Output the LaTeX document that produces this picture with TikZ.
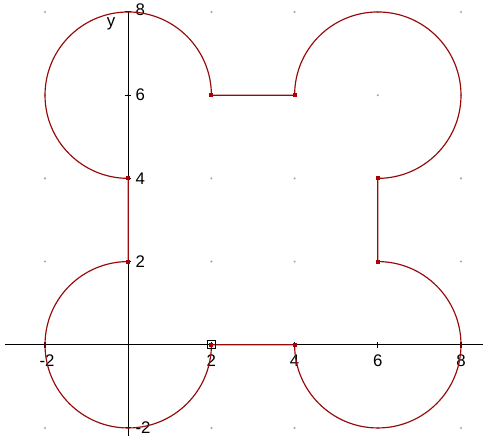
\documentclass[tikz,border=0pt]{standalone}
\usepackage{fontspec}
\setmainfont{Liberation Sans}
\begin{document}
\begin{tikzpicture}[x=1cm,y=1cm,
  axis/.style={black,line width=0.7pt},
  curve/.style={draw={rgb,255:red,150;green,10;blue,10},line width=0.8pt},
  pt/.style={fill={rgb,255:red,170;green,0;blue,0},inner sep=0pt,minimum size=2.8pt,rectangle},
  griddot/.style={fill=gray!70,inner sep=0pt,minimum size=1.6pt,circle},
  lbl/.style={font=\fontsize{11.5}{13}\selectfont,inner sep=0pt}]
\useasboundingbox (-3.082,-2.192) rectangle (8.529,8.288);
% grid dots
\foreach \gx in {-2,0,...,8}{\foreach \gy in {-2,0,...,8}{\node[griddot] at (\gx,\gy) {};}}
% axes
\coordinate (xl) at (-2.96,0); \coordinate (xr) at (8.529,0);
\coordinate (yb) at (0,-2.192); \coordinate (yt) at (0,8.02);
\draw[axis] (xl) -- (xr);
\draw[axis] (yb) -- (yt);
\foreach \t in {-2,2,4,6,8}{\draw[axis] (\t,-0.07) -- (\t,0.07); \draw[axis] (-0.07,\t) -- (0.07,\t);}
% labels
\node[lbl,anchor=north] at (-1.95,-0.24) {-2};
\foreach \t in {2,4,6,8}{\node[lbl,anchor=north] at (\t,-0.24) {\t};}
\foreach \t in {2,4,6}{\node[lbl,anchor=west] at (0.17,\t) {\t};}
\node[lbl,anchor=west] at (0.17,8.05) {8};
\node[lbl,anchor=base west] at (0.17,-2.14) {-2};
\node[lbl] at (-0.41,7.72) {y};
% curve
\coordinate (a) at (0,2); \coordinate (b) at (2,0); \coordinate (c) at (4,0);
\coordinate (d) at (6,2); \coordinate (e) at (6,4); \coordinate (f) at (4,6);
\coordinate (g) at (2,6); \coordinate (h) at (0,4);
\draw[curve] (a) arc[start angle=90,end angle=360,radius=2] -- (c)
  arc[start angle=180,end angle=450,radius=2] -- (e)
  arc[start angle=270,end angle=540,radius=2] -- (g)
  arc[start angle=0,end angle=270,radius=2] -- cycle;
\foreach \p in {a,b,c,d,e,f,g,h}{\node[pt] at (\p) {};}
\node[draw=black,line width=0.6pt,minimum size=5.4pt,inner sep=0pt] at (b) {};
\end{tikzpicture}
\end{document}
